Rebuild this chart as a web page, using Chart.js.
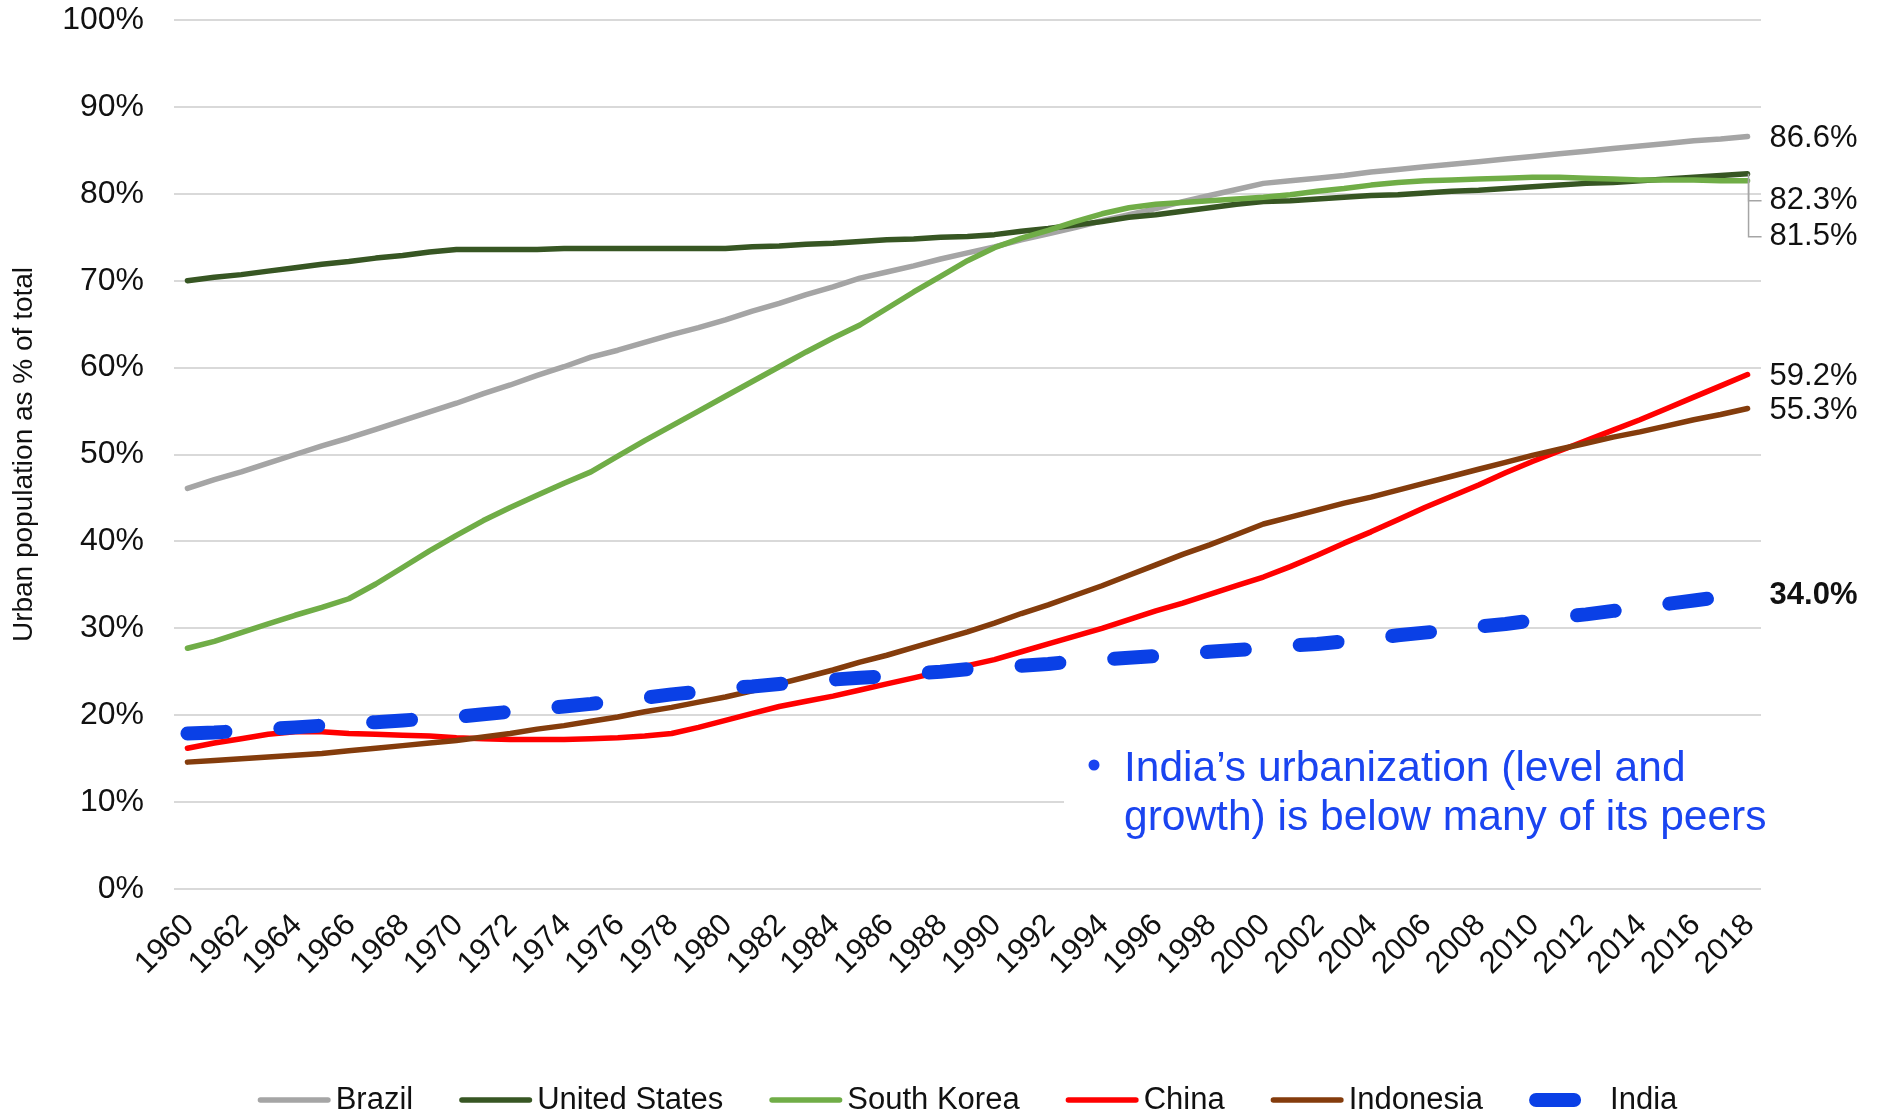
<!DOCTYPE html>
<html>
<head>
<meta charset="utf-8">
<title>Urban population as % of total</title>
<script src="https://cdn.jsdelivr.net/npm/chart.js@4.4.1/dist/chart.umd.min.js"></script>
<style>
  html, body { margin: 0; padding: 0; background: #fff; }
  canvas { display: block; }
</style>
</head>
<body>
<canvas id="urbanChart" width="1879" height="1116"></canvas>
<script>
// Urban population share, 1960-2018
const years = [
  '1960','1961','1962','1963','1964','1965','1966','1967','1968','1969',
  '1970','1971','1972','1973','1974','1975','1976','1977','1978','1979',
  '1980','1981','1982','1983','1984','1985','1986','1987','1988','1989',
  '1990','1991','1992','1993','1994','1995','1996','1997','1998','1999',
  '2000','2001','2002','2003','2004','2005','2006','2007','2008','2009',
  '2010','2011','2012','2013','2014','2015','2016','2017','2018'
];

const brazil = [
  46.1, 47.1, 48.0, 49.0, 50.0, 51.0, 51.9, 52.9, 53.9, 54.9,
  55.9, 57.0, 58.0, 59.1, 60.1, 61.2, 62.0, 62.9, 63.8, 64.6,
  65.5, 66.5, 67.4, 68.4, 69.3, 70.3, 71.0, 71.7, 72.5, 73.2,
  73.9, 74.7, 75.4, 76.1, 76.9, 77.6, 78.3, 79.1, 79.8, 80.5,
  81.2, 81.5, 81.8, 82.1, 82.5, 82.8, 83.1, 83.4, 83.7, 84.0,
  84.3, 84.6, 84.9, 85.2, 85.5, 85.8, 86.1, 86.3, 86.6
];

const unitedStates = [
  70.0, 70.4, 70.7, 71.1, 71.5, 71.9, 72.2, 72.6, 72.9, 73.3,
  73.6, 73.6, 73.6, 73.6, 73.7, 73.7, 73.7, 73.7, 73.7, 73.7,
  73.7, 73.9, 74.0, 74.2, 74.3, 74.5, 74.7, 74.8, 75.0, 75.1,
  75.3, 75.7, 76.0, 76.4, 76.8, 77.3, 77.6, 78.0, 78.4, 78.8,
  79.1, 79.2, 79.4, 79.6, 79.8, 79.9, 80.1, 80.3, 80.4, 80.6,
  80.8, 81.0, 81.2, 81.3, 81.5, 81.7, 81.9, 82.1, 82.3
];

const southKorea = [
  27.7, 28.5, 29.5, 30.5, 31.5, 32.4, 33.4, 35.1, 37.0, 38.9,
  40.7, 42.4, 43.9, 45.3, 46.7, 48.0, 49.8, 51.6, 53.3, 55.0,
  56.7, 58.4, 60.1, 61.8, 63.4, 64.9, 66.8, 68.7, 70.5, 72.3,
  73.8, 74.9, 75.8, 76.8, 77.7, 78.4, 78.8, 79.0, 79.2, 79.4,
  79.6, 79.9, 80.3, 80.6, 81.0, 81.3, 81.5, 81.6, 81.7, 81.8,
  81.9, 81.9, 81.8, 81.7, 81.6, 81.6, 81.6, 81.5, 81.5
];

const china = [
  16.2, 16.8, 17.3, 17.8, 18.1, 18.1, 17.9, 17.8, 17.7, 17.6,
  17.4, 17.3, 17.2, 17.2, 17.2, 17.3, 17.4, 17.6, 17.9, 18.6,
  19.4, 20.2, 21.0, 21.6, 22.2, 22.9, 23.6, 24.3, 25.0, 25.7,
  26.4, 27.3, 28.2, 29.1, 30.0, 31.0, 32.0, 32.9, 33.9, 34.9,
  35.9, 37.1, 38.4, 39.8, 41.1, 42.5, 43.9, 45.2, 46.5, 47.9,
  49.2, 50.4, 51.6, 52.8, 54.0, 55.3, 56.6, 57.9, 59.2
];

const indonesia = [
  14.6, 14.8, 15.0, 15.2, 15.4, 15.6, 15.9, 16.2, 16.5, 16.8,
  17.1, 17.5, 17.9, 18.4, 18.8, 19.3, 19.8, 20.4, 20.9, 21.5,
  22.1, 22.8, 23.6, 24.4, 25.2, 26.1, 26.9, 27.8, 28.7, 29.6,
  30.6, 31.7, 32.7, 33.8, 34.9, 36.1, 37.3, 38.5, 39.6, 40.8,
  42.0, 42.8, 43.6, 44.4, 45.1, 45.9, 46.7, 47.5, 48.3, 49.1,
  49.9, 50.6, 51.3, 52.0, 52.6, 53.3, 54.0, 54.6, 55.3
];

const india = [
  17.9, 18.0, 18.2, 18.4, 18.6, 18.8, 19.0, 19.2, 19.4, 19.6,
  19.8, 20.1, 20.4, 20.7, 21.0, 21.3, 21.7, 22.0, 22.4, 22.7,
  23.1, 23.3, 23.6, 23.8, 24.1, 24.3, 24.5, 24.8, 25.0, 25.3,
  25.5, 25.7, 25.9, 26.2, 26.4, 26.6, 26.8, 27.0, 27.3, 27.5,
  27.7, 28.0, 28.2, 28.5, 28.8, 29.2, 29.5, 29.8, 30.2, 30.5,
  30.9, 31.3, 31.6, 32.0, 32.4, 32.8, 33.2, 33.6, 34.0
];

const countryNames = ['Brazil', 'United States', 'South Korea', 'China', 'Indonesia', 'India'];
const yTicks = [0, 10, 20, 30, 40, 50, 60, 70, 80, 90, 100];
const noteLines = ['India\u2019s urbanization (level and', 'growth) is below many of its peers'];

const FONT = "'Liberation Sans', Arial, Helvetica, sans-serif";
const TEXT = '#111111';
const BLUE = '#0a40e6';

Chart.defaults.font.family = FONT;
Chart.defaults.color = TEXT;

function series(label, data, color, extra) {
  return Object.assign({
    label: label,
    data: data,
    borderColor: color,
    backgroundColor: color,
    borderWidth: 5.5,
    borderCapStyle: 'round',
    borderJoinStyle: 'round',
    pointRadius: 0,
    pointHoverRadius: 0,
    tension: 0,
    fill: false
  }, extra || {});
}

// vertical nudge of the end-of-line value labels (US / S. Korea overlap)
const labelShift = [0, 25, 54, 0, 0, 0];

// value labels at the right end of each line
const endLabels = {
  id: 'endLabels',
  afterDatasetsDraw(chart) {
    const ctx = chart.ctx;
    ctx.save();
    chart.data.datasets.forEach((ds, i) => {
      const meta = chart.getDatasetMeta(i);
      const pt = meta.data[meta.data.length - 1];
      const v = ds.data[ds.data.length - 1];
      const ly = pt.y + labelShift[i] + 2;
      if (labelShift[i] > 10) {
        ctx.strokeStyle = '#a5a5a5';
        ctx.lineWidth = 1.5;
        ctx.setLineDash([]);
        ctx.beginPath();
        ctx.moveTo(pt.x + 1, pt.y);
        ctx.lineTo(pt.x + 1, ly);
        ctx.lineTo(pt.x + 14, ly);
        ctx.stroke();
      }
      ctx.fillStyle = TEXT;
      ctx.font = (i === 5 ? 'bold ' : '') + '31px ' + FONT;
      ctx.textAlign = 'left';
      ctx.textBaseline = 'middle';
      ctx.fillText(v.toFixed(1) + '%', pt.x + 22, ly);
    });
    ctx.restore();
  }
};

// callout text with its white box
const noteBox = {
  id: 'noteBox',
  afterDraw(chart) {
    const ctx = chart.ctx;
    ctx.save();
    ctx.fillStyle = '#ffffff';
    ctx.fillRect(1064, 736, 716, 112);
    ctx.fillStyle = '#1a44f0';
    ctx.beginPath();
    ctx.arc(1094, 765, 5.5, 0, Math.PI * 2);
    ctx.fill();
    ctx.font = '42.5px ' + FONT;
    ctx.textAlign = 'left';
    ctx.textBaseline = 'alphabetic';
    ctx.fillText(noteLines[0], 1124, 781);
    ctx.fillText(noteLines[1], 1124, 830);
    ctx.restore();
  }
};

// legend row under the axis, centred on the plot area
const lineLegend = {
  id: 'lineLegend',
  afterDraw(chart) {
    const ctx = chart.ctx;
    const area = chart.chartArea;
    const sample = 73, textGap = 5, itemGap = 46, y = 1100;
    ctx.save();
    ctx.font = '31px ' + FONT;
    const items = chart.data.datasets.map(ds => ({
      ds: ds,
      w: sample + textGap + ctx.measureText(ds.label).width
    }));
    items[items.length - 1].w += 3;
    const total = items.reduce((s, it) => s + it.w, 0) + itemGap * (items.length - 1);
    let x = (area.left + area.right) / 2 - total / 2;
    items.forEach(it => {
      const ds = it.ds;
      const cap = ds.borderWidth / 2;
      ctx.strokeStyle = ds.borderColor;
      ctx.lineWidth = ds.borderWidth;
      ctx.lineCap = 'round';
      ctx.setLineDash(ds.borderDash || []);
      ctx.beginPath();
      ctx.moveTo(x + cap, y);
      ctx.lineTo(x + sample - cap, y);
      ctx.stroke();
      ctx.setLineDash([]);
      ctx.fillStyle = TEXT;
      ctx.textAlign = 'left';
      ctx.textBaseline = 'middle';
      const tx = x + sample + textGap + (ds.borderDash ? 3 : 0);
      ctx.fillText(ds.label, tx, y);
      x += it.w + itemGap;
    });
    ctx.restore();
  }
};

const datasets = [
  series(countryNames[0], brazil, '#a5a5a5', { order: 5 }),
  series(countryNames[1], unitedStates, '#375623', { order: 4 }),
  series(countryNames[2], southKorea, '#70ad47', { order: 3 }),
  series(countryNames[3], china, '#ff0000', { order: 2 }),
  series(countryNames[4], indonesia, '#843c0c', { order: 1 }),
  series(countryNames[5], india, BLUE, { order: 0, borderWidth: 14, borderDash: [38, 55] })
];

new Chart(document.getElementById('urbanChart'), {
  type: 'line',
  data: { labels: years, datasets: datasets },
  options: {
    responsive: false,
    animation: false,
    events: [],
    layout: { padding: { top: 20, right: 118, bottom: 117, left: 0 } },
    plugins: {
      legend: { display: false },
      tooltip: { enabled: false }
    },
    scales: {
      x: {
        type: 'category',
        offset: true,
        grid: { display: false },
        border: { display: false },
        afterFit(scale) { scale.height = 110; },
        ticks: {
          autoSkip: false,
          minRotation: 45,
          maxRotation: 45,
          padding: 10,
          labelOffset: 2,
          color: TEXT,
          font: { size: 31 },
          callback(value, index) {
            return index % 2 === 0 ? years[index] : '';
          }
        }
      },
      y: {
        min: 0,
        max: 100,
        afterFit(scale) {
          scale.width = 174;
          scale.paddingTop = 0;
          scale.paddingBottom = 0;
        },
        afterBuildTicks(scale) {
          scale.ticks = yTicks.map(v => ({ value: v }));
        },
        grid: { color: '#d9d9d9', lineWidth: 2, drawTicks: false },
        border: { display: false },
        ticks: {
          padding: 30,
          color: TEXT,
          font: { size: 32 },
          callback: v => v + '%'
        },
        title: {
          display: true,
          text: 'Urban population as % of total',
          color: TEXT,
          font: { size: 28 },
          padding: { top: 7, bottom: 0 }
        }
      }
    }
  },
  plugins: [endLabels, noteBox, lineLegend]
});
</script>
</body>
</html>
